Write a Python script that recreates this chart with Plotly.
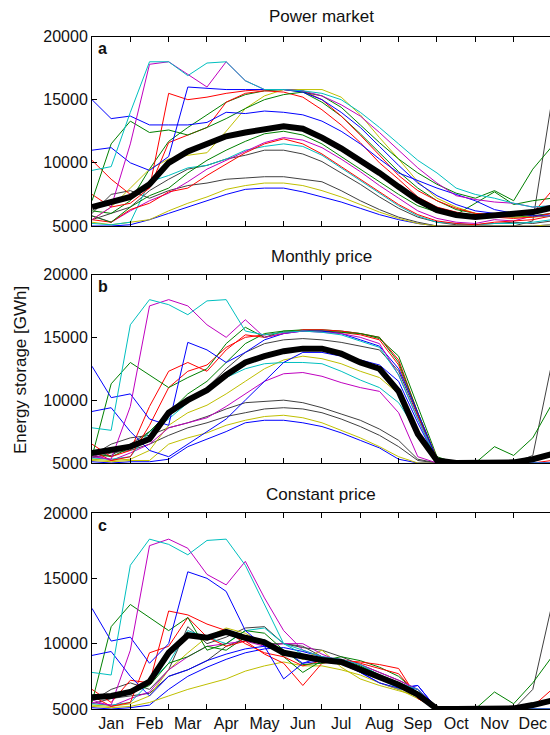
import plotly.graph_objects as go

months = ["Jan", "Feb", "Mar", "Apr", "May", "Jun", "Jul", "Aug", "Sep", "Oct", "Nov", "Dec"]
# half-month sample positions (in months from 1 Jan)
x_half = [0, 0.5, 1, 1.5, 2, 2.5, 3, 3.5, 4, 4.5, 5, 5.5, 6, 6.5, 7, 7.5, 8, 8.5, 9, 9.5, 10, 10.5, 11, 11.5, 12]
y_ticks = [5000, 10000, 15000, 20000]
y_tick_text = ["5000", "10000", "15000", "20000"]
titles = ["Power market", "Monthly price", "Constant price"]
letters = ["a", "b", "c"]

# ---------------- panel a: Power market ----------------
a_mean = [6500, 6900, 7300, 8300, 10000, 10900, 11500, 12100, 12400, 12700, 12900, 12700, 12000, 11150, 10200, 9200, 8100, 7050, 6260, 5870, 5710, 5870, 5950, 6100, 6450]
a_cyan1 = [9400, 9700, 14000, 18000, 18000, 16900, 17900, 18000, 16500, 15800, 15800, 15700, 15500, 15000, 14000, 12800, 11500, 10200, 9200, 8000, 7500, 7200, 6800, 6500, 6600]
a_mag1 = [5500, 6500, 11500, 17800, 18000, 17000, 16000, 18000, 16500, 15800, 15800, 15700, 15300, 14600, 13700, 12400, 11000, 9600, 8400, 7400, 7100, 6900, 6800, 6500, 6600]
a_blue1 = [15000, 13500, 13700, 13000, 13000, 13000, 13200, 14000, 13900, 14100, 14000, 13800, 13300, 12500, 11500, 10300, 9200, 8600, 8000, 7500, 7000, 6300, 6000, 5800, 5800]
a_blue2 = [11000, 11200, 10000, 9400, 10500, 16000, 15900, 15800, 15800, 15800, 15800, 15600, 15000, 14000, 12800, 11300, 9800, 8400, 7400, 6700, 6200, 6000, 5800, 6100, 6300]
a_green1 = [7000, 11500, 13300, 12400, 12600, 12200, 12800, 13500, 14300, 15000, 15400, 15600, 15300, 14400, 13000, 11600, 10300, 9200, 8300, 7600, 7200, 7800, 7000, 9500, 11300]
a_red1 = [10200, 8700, 7500, 8000, 15500, 15000, 15200, 15500, 15700, 15800, 15800, 15700, 15000, 13700, 12200, 10600, 9000, 7800, 7000, 6400, 6000, 5900, 5800, 6000, 7800]
a_red2 = [7500, 6500, 6800, 8000, 11600, 12200, 12800, 14800, 15500, 15700, 15600, 15200, 14200, 13000, 11600, 10000, 8700, 7300, 6500, 6100, 5800, 5700, 5600, 5700, 6000]
a_yel1 = [5500, 6500, 8000, 9500, 10300, 10600, 10800, 12500, 14300, 15300, 15800, 15800, 15800, 15200, 13800, 12000, 10300, 8500, 7200, 6500, 6000, 5800, 5700, 5700, 5800]
a_cyan2 = [5200, 5100, 5300, 8500, 9000, 9600, 9800, 10300, 11000, 11300, 11500, 11300, 10600, 9600, 8600, 7600, 6600, 5800, 5300, 5200, 5100, 5200, 5200, 5300, 5500]
a_mag2 = [5800, 5300, 6200, 7000, 7600, 8500, 9500, 10200, 10900, 11600, 12000, 11800, 11200, 10300, 9300, 8200, 7200, 6200, 5600, 5300, 5200, 5500, 5400, 5800, 6000]
a_blue3 = [5000, 5000, 5100, 5500, 6000, 6500, 7000, 7500, 7900, 8000, 8000, 7700, 7300, 6900, 6400, 5900, 5500, 5200, 5000, 5000, 5000, 5000, 5000, 5000, 5100]
a_yel2 = [5300, 5100, 5300, 5500, 6200, 6800, 7300, 7900, 8200, 8400, 8400, 8200, 7800, 7300, 6700, 6100, 5600, 5200, 5000, 5000, 5000, 5000, 5000, 5000, 5100]
a_gray1 = [6000, 7500, 7800, 7200, 7800, 8200, 8400, 8700, 8800, 8900, 8900, 8700, 8500, 7800, 7000, 6300, 5700, 5300, 5000, 5000, 5000, 5000, 5000, 5400, 15000]
a_gray2 = [5500, 6000, 6500, 7800, 8700, 9500, 9800, 10300, 10600, 11000, 11000, 10700, 10100, 9200, 8300, 7300, 6400, 5700, 5300, 5100, 5100, 5200, 5300, 5200, 5400]
a_green2 = [5800, 5300, 6500, 7400, 8000, 9200, 10200, 11000, 11700, 12300, 12500, 12200, 11500, 10500, 9500, 8500, 7500, 6600, 6100, 5900, 6800, 7700, 6700, 7000, 7200]
a_red3 = [5500, 5300, 6300, 6800, 7700, 8000, 9000, 9900, 10800, 11500, 11900, 11500, 10700, 9700, 8700, 7700, 6700, 5900, 5400, 5200, 5100, 5300, 5400, 5500, 5800]
a_green3 = [6200, 6000, 7000, 9500, 11700, 12800, 13800, 14800, 15400, 15700, 15800, 15600, 14800, 13700, 12300, 10800, 9300, 8000, 7000, 6300, 6000, 5800, 5700, 5800, 6000]

# ---------------- panel b: Monthly price ----------------
b_mean = [5800, 6100, 6300, 6900, 9000, 10000, 10800, 12000, 13000, 13500, 13900, 14100, 14100, 13700, 13000, 12500, 10700, 7300, 5200, 5000, 5000, 5000, 5050, 5300, 5700]
b_cyan1 = [7800, 7600, 16000, 18000, 17600, 16800, 17900, 18000, 15500, 15200, 15400, 15500, 15400, 15200, 14700, 14200, 12000, 8500, 5200, 5000, 5000, 5000, 5000, 5000, 5000]
b_mag1 = [5500, 5300, 9500, 17500, 18000, 17500, 16000, 15000, 16400, 15000, 15300, 15500, 15400, 15300, 15000, 14500, 12000, 8500, 5200, 5000, 5000, 5000, 5000, 5000, 5000]
b_blue1 = [12700, 10200, 10500, 8500, 8000, 14600, 14000, 13000, 13800, 14800, 15300, 15500, 15500, 15300, 14800, 14300, 12500, 9000, 5300, 5000, 5000, 5000, 5000, 5000, 5000]
b_blue2 = [9100, 9400, 7500, 6000, 5500, 6500, 7500, 8500, 10000, 11500, 13000, 13800, 13800, 13500, 13200, 12800, 11500, 8200, 5200, 5000, 5000, 5000, 5000, 5000, 5000]
b_green1 = [5500, 11300, 13000, 12000, 11000, 11800, 12500, 14500, 15800, 15000, 15500, 15500, 15500, 15400, 15300, 15000, 13000, 9000, 5300, 5000, 5000, 5000, 5000, 5000, 5000]
b_green2 = [5800, 5500, 6200, 7500, 9000, 10500, 11500, 13000, 14500, 15300, 15500, 15600, 15600, 15500, 15300, 14900, 13500, 9500, 5500, 5000, 5000, 6300, 5600, 7000, 9700]
b_red1 = [6500, 5500, 6000, 9500, 12300, 13000, 12300, 14000, 15200, 15000, 15300, 15600, 15600, 15500, 15300, 15000, 13200, 9000, 5400, 5000, 5000, 5000, 5000, 5200, 5800]
b_red2 = [6000, 5200, 5500, 8000, 11000, 12300, 12800, 14200, 15000, 15200, 15400, 15500, 15500, 15400, 15200, 14800, 12800, 8800, 5300, 5000, 5000, 5000, 5000, 5000, 5200]
b_cyan2 = [5400, 5300, 5500, 7500, 8500, 9800, 10800, 11800, 12500, 12900, 13000, 13000, 12900, 12300, 11600, 11000, 9800, 7500, 5100, 5000, 5000, 5000, 5000, 5000, 5000]
b_mag2 = [5700, 5200, 5800, 6500, 7800, 8200, 8600, 9500, 10500, 11500, 12100, 12200, 11900, 11400, 11000, 10700, 9000, 5500, 5000, 5000, 5000, 5000, 5000, 5000, 5000]
b_yel1 = [5300, 5200, 5300, 6000, 8000, 9000, 9600, 10500, 11500, 12500, 13200, 13500, 13300, 12900, 12300, 11800, 10500, 7000, 5100, 5000, 5000, 5000, 5000, 5000, 5000]
b_yel2 = [5200, 5100, 5200, 5200, 6500, 7000, 7400, 8000, 8400, 8700, 8800, 8600, 8200, 7600, 7000, 6300, 5500, 5000, 5000, 5000, 5000, 5000, 5000, 5300, 5500]
b_blue3 = [5100, 5000, 5100, 5100, 5300, 6300, 6900, 7500, 8200, 8400, 8400, 8200, 7900, 7400, 6800, 6200, 5300, 5000, 5000, 5000, 5000, 5000, 5000, 5000, 5000]
b_gray1 = [5600, 6500, 7000, 7200, 7800, 8200, 8700, 9300, 9800, 9900, 10000, 9800, 9400, 8900, 8400, 7700, 6800, 5300, 5000, 5000, 5000, 5000, 5000, 5600, 13000]
b_gray2 = [5400, 5800, 6000, 6500, 7200, 7800, 8200, 8700, 9000, 9300, 9400, 9300, 9000, 8500, 7900, 7200, 6300, 5200, 5000, 5000, 5000, 5000, 5000, 5000, 5000]
b_gray3 = [5500, 5600, 6500, 7500, 9000, 10000, 11000, 12500, 13800, 14500, 14800, 14900, 14800, 14600, 14300, 14000, 12300, 8700, 5200, 5000, 5000, 5000, 5000, 5000, 5000]

# ---------------- panel c: Constant price ----------------
c_mean = [5900, 6000, 6300, 7100, 9300, 10650, 10450, 10900, 10450, 10100, 9300, 9000, 8750, 8600, 8000, 7400, 6850, 6100, 5000, 5000, 5000, 5000, 5050, 5300, 5650]
c_cyan1 = [7800, 7600, 16000, 18000, 17600, 16800, 17900, 18000, 16000, 13000, 10000, 9500, 9000, 8800, 8400, 7600, 7000, 6500, 5000, 5000, 5000, 5000, 5000, 5000, 5000]
c_mag1 = [5500, 5300, 9500, 17500, 18000, 17300, 15300, 14500, 16300, 13500, 11000, 9500, 9000, 8800, 8400, 7800, 7200, 6500, 5000, 5000, 5000, 5000, 5000, 5000, 5000]
c_blue1 = [12700, 10200, 10500, 8500, 10000, 15500, 15000, 14000, 11000, 9800, 9500, 8500, 8700, 8500, 8000, 7400, 6800, 6500, 5000, 5000, 5000, 5000, 5000, 5000, 5000]
c_blue2 = [9100, 9400, 7500, 6000, 7500, 8000, 8700, 9200, 9600, 9800, 7300, 8500, 9000, 8500, 7800, 7000, 6600, 6800, 5000, 5000, 5000, 5000, 5000, 5000, 5000]
c_green1 = [5500, 11300, 13000, 12000, 11000, 12000, 9500, 10000, 11000, 10800, 9500, 8400, 8500, 8800, 8300, 7600, 7000, 6300, 5000, 5000, 5000, 6300, 5400, 7000, 9000]
c_red1 = [6500, 5500, 7200, 7000, 12500, 12200, 11500, 11000, 10000, 9300, 9000, 8300, 8700, 8800, 8500, 8100, 7700, 6000, 5000, 5000, 5000, 5000, 5000, 5200, 6500]
c_red2 = [6000, 5200, 5500, 9300, 9800, 12000, 10500, 9800, 10200, 9200, 8500, 6800, 8500, 8700, 8600, 8400, 8100, 5800, 5000, 5000, 5000, 5000, 5000, 5000, 5000]
c_cyan2 = [5400, 5300, 5500, 7000, 8500, 11000, 10500, 10000, 11000, 11200, 10000, 9200, 8800, 8500, 8000, 7300, 6600, 6200, 5000, 5000, 5000, 5000, 5000, 5000, 5000]
c_yel1 = [5200, 5100, 5200, 5500, 6000, 6500, 6900, 7300, 7900, 8300, 8600, 8300, 8300, 8000, 7600, 7000, 6500, 5800, 5000, 5000, 5000, 5000, 5000, 5000, 5000]
c_yel2 = [5300, 5200, 5400, 6000, 8000, 9300, 10500, 11200, 10800, 10000, 9500, 8800, 9500, 8200, 7300, 6800, 6400, 6000, 5000, 5000, 5000, 5000, 5000, 5000, 5000]
c_mag2 = [5700, 5200, 5800, 6300, 8000, 9000, 9800, 10000, 10200, 9800, 10000, 10000, 9200, 8600, 8000, 7500, 7000, 6500, 5000, 5000, 5000, 5000, 5000, 5000, 5000]
c_gray1 = [5600, 6500, 7000, 6500, 8000, 11300, 10000, 10500, 11200, 11300, 10000, 9700, 9500, 9000, 8400, 7800, 7200, 6500, 5000, 5000, 5000, 5000, 5000, 6500, 13000]
c_blue3 = [5100, 5000, 5100, 5300, 6500, 7500, 8200, 8800, 9300, 9600, 9700, 9400, 9000, 8500, 7800, 7000, 6500, 6800, 5000, 5000, 5000, 5000, 5000, 5000, 5000]
c_green2 = [5800, 6000, 6200, 6800, 8500, 9000, 9800, 9500, 10500, 10300, 9000, 7800, 8700, 9000, 8700, 8200, 7500, 6200, 5000, 5000, 5000, 5000, 5000, 5000, 5000]
c_gray2 = [5400, 5800, 6000, 6200, 7500, 8000, 8700, 9800, 10400, 10000, 10000, 9800, 9000, 8500, 8000, 7300, 6800, 6300, 5000, 5000, 5000, 5000, 5000, 5000, 5000]

COL = {"b": "#0000ff", "g": "#008000", "r": "#ff0000", "c": "#00bfbf",
       "m": "#bf00bf", "y": "#bfbf00", "k": "#404040"}

panels = [
    (a_mean, [(a_gray1, "k"), (a_gray2, "k"), (a_blue3, "b"), (a_yel2, "y"), (a_cyan2, "c"),
              (a_mag2, "m"), (a_red3, "r"), (a_green2, "g"), (a_green3, "g"), (a_yel1, "y"),
              (a_red2, "r"), (a_red1, "r"), (a_green1, "g"), (a_blue2, "b"), (a_blue1, "b"),
              (a_mag1, "m"), (a_cyan1, "c")]),
    (b_mean, [(b_gray1, "k"), (b_gray2, "k"), (b_gray3, "k"), (b_blue3, "b"), (b_yel2, "y"),
              (b_yel1, "y"), (b_mag2, "m"), (b_cyan2, "c"), (b_green2, "g"), (b_red2, "r"),
              (b_red1, "r"), (b_green1, "g"), (b_blue2, "b"), (b_blue1, "b"), (b_mag1, "m"),
              (b_cyan1, "c")]),
    (c_mean, [(c_gray1, "k"), (c_gray2, "k"), (c_blue3, "b"), (c_yel1, "y"), (c_yel2, "y"),
              (c_mag2, "m"), (c_cyan2, "c"), (c_green2, "g"), (c_red2, "r"), (c_red1, "r"),
              (c_green1, "g"), (c_blue2, "b"), (c_blue1, "b"), (c_mag1, "m"), (c_cyan1, "c")]),
]

H = 735.0
W_PLOT = 458.0
MONTH_PX = 38.33
y_domains = [
    [1 - 226 / H, 1 - 36.5 / H],
    [1 - 463 / H, 1 - 274.5 / H],
    [1 - 709 / H, 1 - 513 / H],
]
title_px = [17, 256, 494]
letter_px = [48, 286, 525]

FONT = "Liberation Sans, Arial, Helvetica, sans-serif"
fig = go.Figure()
layout = dict(
    width=550, height=735, margin=dict(l=92, r=0, t=0, b=0, autoexpand=False),
    paper_bgcolor="white", plot_bgcolor="white", showlegend=False,
    font=dict(family=FONT, size=16, color="#111111"),
)
annotations = []
for i, (mean, lines) in enumerate(panels):
    sfx = "" if i == 0 else str(i + 1)
    for vals, c in lines:
        fig.add_trace(go.Scatter(x=x_half, y=vals, mode="lines",
                                 line=dict(color=COL[c], width=1),
                                 xaxis="x" + sfx, yaxis="y" + sfx, hoverinfo="skip"))
    fig.add_trace(go.Scatter(x=x_half, y=mean, mode="lines",
                             line=dict(color="black", width=6),
                             xaxis="x" + sfx, yaxis="y" + sfx, hoverinfo="skip"))
    layout["xaxis" + sfx] = dict(
        domain=[0, 1], anchor="y" + sfx, range=[0, W_PLOT / MONTH_PX],
        tickvals=[m + 0.5 for m in range(12)], ticktext=months, ticks="",
        showticklabels=(i == 2), tickfont=dict(size=16), automargin=False,
        minor=dict(tickvals=list(range(1, 12)), ticks="inside", ticklen=5,
                   tickcolor="black", showgrid=False),
        showline=True, linecolor="black", linewidth=1, mirror="ticks",
        showgrid=False, zeroline=False,
    )
    layout["yaxis" + sfx] = dict(
        domain=y_domains[i], anchor="x" + sfx, range=[5000, 20000],
        tickvals=y_ticks, ticktext=y_tick_text, ticks="inside", ticklen=5,
        tickcolor="black", automargin=False,
        showline=True, linecolor="black", linewidth=1, mirror=False,
        showgrid=False, zeroline=False, tickfont=dict(size=16),
    )
    annotations.append(dict(text=titles[i], xref="paper", yref="paper",
                            x=0.5, y=1 - title_px[i] / H, xanchor="center",
                            yanchor="middle", showarrow=False, font=dict(size=17)))
    annotations.append(dict(text="<b>" + letters[i] + "</b>", xref="paper", yref="paper",
                            x=4 / W_PLOT, y=1 - letter_px[i] / H, xanchor="left",
                            yanchor="middle", showarrow=False, font=dict(size=16)))
annotations.append(dict(text="Energy storage [GWh]", xref="paper", yref="paper",
                        x=(20 - 92) / W_PLOT, y=1 - 370 / H, xanchor="center",
                        yanchor="middle", textangle=-90, showarrow=False,
                        font=dict(size=17)))
layout["annotations"] = annotations
fig.update_layout(**layout)
fig.write_html("out.html", config={"displayModeBar": False},
               post_script="document.body.style.margin='0px';")
